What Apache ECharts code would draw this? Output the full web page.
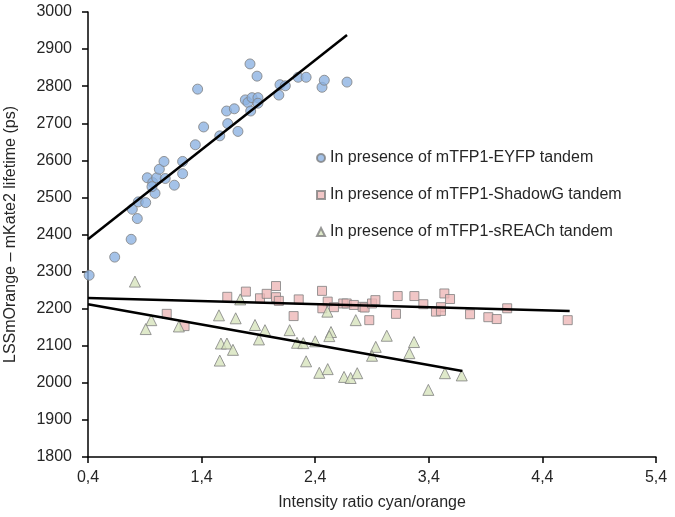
<!DOCTYPE html>
<html><head><meta charset="utf-8">
<script src="https://cdn.jsdelivr.net/npm/echarts@6/dist/echarts.min.js"></script>
<style>html,body{margin:0;padding:0;background:#fff}#c{width:675px;height:517px}</style>
</head><body><div id="c"></div>
<script>
const xTicks = [0.4, 1.4, 2.4, 3.4, 4.4, 5.4];
const legendNames = ['In presence of mTFP1-EYFP tandem', 'In presence of mTFP1-ShadowG tandem', 'In presence of mTFP1-sREACh tandem'];
const blueX = [0.41,0.635,0.78,0.834,0.79,0.843,0.908,0.99,0.922,0.97,1.005,1.028,1.069,1.08,0.963,1.16,1.233,1.233,1.345,1.418,1.365,1.56,1.63,1.62,1.688,1.72,1.785,1.808,1.832,1.844,1.896,1.896,1.826,1.888,2.08,2.09,2.137,2.25,2.32,2.46,2.48,2.68];
const blueY = [2290,2339,2387,2443,2468,2488,2486,2511,2553,2540,2553,2576,2597,2551,2529,2533,2597,2564,2642,2690,2792,2666,2699,2733,2739,2678,2763,2756,2733,2769,2769,2754,2860,2827,2776,2804,2801,2824,2824,2797,2816,2811];
const pinkX = [1.093,1.25,1.626,1.79,1.914,1.973,2.055,2.055,2.08,2.255,2.21,2.46,2.51,2.463,2.565,2.647,2.677,2.74,2.818,2.835,2.876,2.9,2.93,3.126,3.111,3.273,3.352,3.537,3.587,3.507,3.463,3.507,3.763,3.924,3.998,4.09,4.623];
const pinkY = [2186,2153,2232,2246,2228,2240,2261,2231,2221,2225,2180,2248,2219,2201,2204,2214,2214,2210,2205,2203,2169,2214,2223,2234,2186,2234,2212,2241,2226,2204,2192,2194,2185,2177,2172,2201,2169];
const greenX = [0.813,0.957,0.908,1.2,1.553,1.74,1.7,1.57,1.623,1.676,1.56,1.87,1.958,1.905,2.175,2.24,2.295,2.4,2.32,2.436,2.51,2.507,2.539,2.524,2.654,2.712,2.77,2.757,2.933,2.9,3.03,3.27,3.229,3.542,3.69,3.396];
const greenY = [2273,2169,2145,2152,2182,2225,2174,2106,2106,2089,2060,2156,2142,2117,2142,2108,2107,2112,2058,2027,2037,2192,2137,2126,2016,2013,2026,2169,2097,2073,2127,2110,2080,2026,2020,1981];
const blueTrendX = [0.4, 2.68], blueTrendY = [2387, 2938];
const pinkTrendX = [0.4, 4.64], pinkTrendY = [2229, 2194];
const greenTrendX = [0.4, 3.695], greenTrendY = [2212, 2032];

const zip = (a, b) => a.map((v, i) => [v, b[i]]);
const font = 'Arial, "Liberation Sans", sans-serif';
const border = {borderColor: '#808080', borderWidth: 1};
const scatter = (name, xs, ys, symbol, color, size) => ({
  type: 'scatter', name, data: zip(xs, ys), symbol, symbolSize: size,
  itemStyle: Object.assign({color}, border), z: 2
});
const trend = (xs, ys) => ({
  type: 'line', data: zip(xs, ys), symbol: 'none', silent: true,
  lineStyle: {color: '#000', width: 2.5}, z: 3
});
const chart = echarts.init(document.getElementById('c'), null, {renderer: 'canvas'});
chart.setOption({
  animation: false,
  grid: {left: 88, right: 19, top: 12, bottom: 60, containLabel: false, outerBoundsMode: 'none'},
  legend: {
    data: legendNames.map((n, i) => ({name: n, icon: ['circle', 'rect', 'triangle'][i]})),
    orient: 'vertical', left: 311, top: 145, itemWidth: 8, itemHeight: 8, itemGap: 21,
    textStyle: {fontFamily: font, fontSize: 16, color: '#262626'}
  },
  xAxis: {
    type: 'value', min: 0.4, max: 5.4,
    name: 'Intensity ratio cyan/orange', nameLocation: 'middle', nameGap: 38,
    nameTextStyle: {fontFamily: font, fontSize: 16, color: '#262626'},
    axisLine: {lineStyle: {color: '#000', width: 1.5}},
    axisTick: {show: true, length: 6, customValues: xTicks, lineStyle: {color: '#000', width: 1.5}},
    axisLabel: {customValues: xTicks, fontFamily: font, fontSize: 16, color: '#262626', margin: 13,
      formatter: v => v.toFixed(1).replace('.', ',')},
    splitLine: {show: false}
  },
  yAxis: {
    type: 'value', min: 1800, max: 3000, interval: 100,
    name: 'LSSmOrange – mKate2 lifetime (ps)', nameLocation: 'middle', nameGap: 69, nameRotate: 90,
    nameTextStyle: {fontFamily: font, fontSize: 16, color: '#262626'},
    axisLine: {show: true, lineStyle: {color: '#000', width: 1.5}},
    axisTick: {show: true, length: 6, lineStyle: {color: '#000', width: 1.5}},
    axisLabel: {fontFamily: font, fontSize: 16, color: '#262626', margin: 16, formatter: v => String(v)},
    splitLine: {show: false}
  },
  series: [
    scatter(legendNames[0], blueX, blueY, 'circle', '#8DB3E2', 10),
    scatter(legendNames[1], pinkX, pinkY, 'rect', '#EDB8B8', 9),
    scatter(legendNames[2], greenX, greenY, 'triangle', '#D7E4BD', 11),
    trend(blueTrendX, blueTrendY),
    trend(pinkTrendX, pinkTrendY),
    trend(greenTrendX, greenTrendY)
  ]
});
</script></body></html>
